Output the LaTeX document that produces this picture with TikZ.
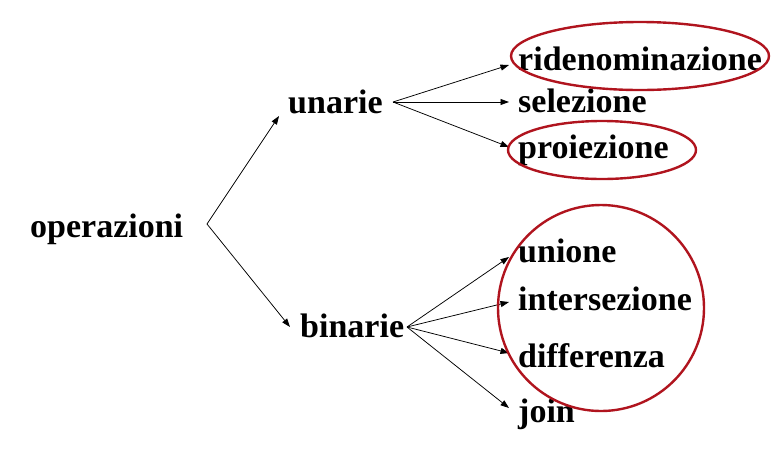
\documentclass[tikz,border=0pt]{standalone}
\usepackage{fontspec}
\setmainfont{Liberation Serif}
\usetikzlibrary{arrows.meta}
\definecolor{ringred}{HTML}{B0141E}
\tikzset{
  lbl/.style={anchor=base west,inner sep=0pt,font=\fontsize{34}{40}\selectfont\bfseries},
  conn/.style={draw=black,line width=0.75pt,-{Triangle[length=8.5pt,width=6pt]}},
  ring/.style={draw=ringred,line width=2.4pt}
}
\begin{document}
\begin{tikzpicture}[x=1pt,y=-1pt]
\useasboundingbox (0,0) rectangle (773,448);
% text nodes
\node[lbl] (op) at (30,237) {operazioni};
\node[lbl] (un) at (288,113) {unarie};
\node[lbl] (bi) at (300,337) {binarie};
\node[lbl] (rid) at (518,70) {ridenominazione};
\node[lbl] (sel) at (518,112) {selezione};
\node[lbl] (pro) at (518,158) {proiezione};
\node[lbl] (uni) at (518,262) {unione};
\node[lbl] (int) at (518,310) {intersezione};
\node[lbl] (dif) at (518,367) {differenza};
\node[lbl] (joi) at (518,422) {join};
% connector ends
\coordinate (opR) at (207,224);
\coordinate (unL) at (279,116);
\coordinate (biL) at (290,327);
\coordinate (unR) at (393,102);
\coordinate (biR) at (407,327);
\coordinate (ridL) at (509,65);
\coordinate (selL) at (509,102);
\coordinate (proL) at (509,147);
\coordinate (uniL) at (509,257);
\coordinate (intL) at (509,302);
\coordinate (difL) at (509,353);
\coordinate (joiL) at (509,408);
% connectors
\draw[conn] (opR) -- (unL);
\draw[conn] (opR) -- (biL);
\draw[conn] (unR) -- (ridL);
\draw[conn] (unR) -- (selL);
\draw[conn] (unR) -- (proL);
\draw[conn] (biR) -- (uniL);
\draw[conn] (biR) -- (intL);
\draw[conn] (biR) -- (difL);
\draw[conn] (biR) -- (joiL);
% highlight rings
\draw[ring] (640,56) ellipse [x radius=129,y radius=34];
\draw[ring] (602,150) ellipse [x radius=94,y radius=29];
\draw[ring] (601,308) circle [radius=103];
\end{tikzpicture}
\end{document}
